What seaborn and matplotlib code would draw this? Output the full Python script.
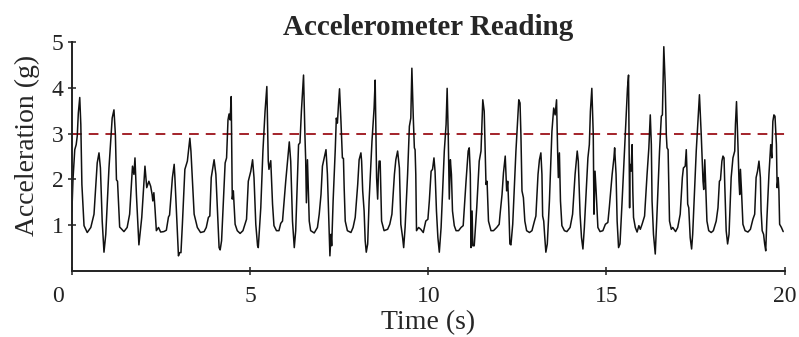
import matplotlib
matplotlib.use("Agg")
import matplotlib.pyplot as plt
import matplotlib.transforms as mtransforms
import seaborn as sns
import pandas as pd

# samples traced from the reading, seconds / g
time_s = [
    0.00, 0.03, 0.08, 0.12, 0.15, 0.18, 0.22, 0.25, 0.28, 0.34,
    0.43, 0.53, 0.62, 0.71, 0.76, 0.80, 0.85, 0.90, 0.95, 1.04,
    1.13, 1.18, 1.22, 1.25, 1.28, 1.34, 1.46, 1.55, 1.62, 1.70,
    1.74, 1.77, 1.81, 1.88, 1.96, 2.05, 2.10, 2.16, 2.21, 2.25,
    2.27, 2.30, 2.33, 2.37, 2.43, 2.49, 2.58, 2.65, 2.71, 2.74,
    2.82, 2.87, 2.89, 2.94, 2.99, 3.02, 3.06, 3.10, 3.17, 3.24,
    3.31, 3.34, 3.43, 3.52, 3.61, 3.71, 3.77, 3.83, 3.87, 3.91,
    3.99, 4.04, 4.08, 4.13, 4.16, 4.20, 4.30, 4.34, 4.38, 4.41,
    4.44, 4.47, 4.49, 4.50, 4.53, 4.58, 4.64, 4.72, 4.80, 4.90,
    4.95, 5.02, 5.07, 5.11, 5.16, 5.21, 5.23, 5.30, 5.36, 5.42,
    5.47, 5.51, 5.53, 5.58, 5.63, 5.67, 5.74, 5.81, 5.86, 5.91,
    6.00, 6.10, 6.14, 6.19, 6.24, 6.28, 6.36, 6.40, 6.44, 6.50,
    6.54, 6.56, 6.58, 6.61, 6.66, 6.70, 6.80, 6.89, 6.94, 6.99,
    7.03, 7.13, 7.17, 7.22, 7.24, 7.27, 7.29, 7.33, 7.39, 7.42,
    7.45, 7.48, 7.51, 7.55, 7.59, 7.62, 7.64, 7.67, 7.73, 7.83,
    7.89, 7.95, 8.02, 8.06, 8.11, 8.13, 8.16, 8.18, 8.20, 8.23,
    8.26, 8.30, 8.34, 8.42, 8.48, 8.51, 8.55, 8.58, 8.60, 8.62,
    8.65, 8.69, 8.76, 8.86, 8.92, 8.98, 9.05, 9.09, 9.14, 9.19,
    9.23, 9.28, 9.31, 9.35, 9.42, 9.47, 9.51, 9.54, 9.58, 9.61,
    9.63, 9.65, 9.67, 9.73, 9.79, 9.86, 9.93, 9.99, 10.03, 10.08,
    10.12, 10.16, 10.19, 10.23, 10.27, 10.31, 10.36, 10.45, 10.50, 10.53,
    10.56, 10.59, 10.62, 10.65, 10.68, 10.73, 10.78, 10.85, 10.92, 10.98,
    11.06, 11.12, 11.15, 11.18, 11.20, 11.23, 11.25, 11.29, 11.36, 11.43,
    11.48, 11.53, 11.57, 11.62, 11.65, 11.69, 11.76, 11.83, 11.92, 11.99,
    12.02, 12.07, 12.11, 12.16, 12.20, 12.23, 12.26, 12.29, 12.32, 12.37,
    12.46, 12.54, 12.575, 12.60, 12.63, 12.67, 12.71, 12.76, 12.84, 12.91,
    12.98, 13.02, 13.08, 13.12, 13.16, 13.19, 13.21, 13.24, 13.27, 13.30,
    13.34, 13.40, 13.47, 13.52, 13.56, 13.60, 13.63, 13.65, 13.68, 13.71,
    13.75, 13.82, 13.89, 13.98, 14.05, 14.12, 14.18, 14.21, 14.26, 14.30,
    14.34, 14.38, 14.48, 14.52, 14.55, 14.59, 14.63, 14.65, 14.68, 14.71,
    14.76, 14.82, 14.90, 14.97, 15.04, 15.08, 15.16, 15.21, 15.23, 15.27,
    15.30, 15.34, 15.38, 15.44, 15.51, 15.55, 15.59, 15.62, 15.65, 15.66,
    15.69, 15.72, 15.74, 15.76, 15.81, 15.86, 15.91, 15.95, 16.00, 16.07,
    16.14, 16.19, 16.23, 16.26, 16.28, 16.32, 16.37, 16.41, 16.49, 16.54,
    16.57, 16.61, 16.65, 16.68, 16.70, 16.73, 16.77, 16.82, 16.86, 16.94,
    17.00, 17.07, 17.13, 17.16, 17.21, 17.24, 17.26, 17.28, 17.31, 17.35,
    17.39, 17.42, 17.52, 17.61, 17.66, 17.71, 17.73, 17.76, 17.78, 17.82,
    17.87, 17.94, 18.00, 18.08, 18.13, 18.17, 18.20, 18.24, 18.27, 18.30,
    18.32, 18.36, 18.40, 18.44, 18.50, 18.55, 18.60, 18.62, 18.65, 18.69,
    18.72, 18.74, 18.76, 18.79, 18.83, 18.89, 18.97, 19.04, 19.11, 19.16,
    19.20, 19.24, 19.28, 19.32, 19.34, 19.37, 19.41, 19.44, 19.47, 19.50,
    19.56, 19.61, 19.64, 19.67, 19.70, 19.73, 19.77, 19.79, 19.82, 19.84,
    19.86, 19.91, 19.96,
]
accel_g = [
    1.30, 2.00, 2.65, 2.76, 2.95, 3.45, 3.79, 3.20, 1.89, 0.99,
    0.84, 0.95, 1.24, 2.36, 2.58, 2.25, 1.09, 0.41, 0.80, 2.25,
    3.34, 3.52, 2.98, 1.99, 1.96, 0.96, 0.86, 0.95, 1.24, 2.29,
    2.11, 2.47, 1.67, 0.57, 1.17, 2.29, 1.82, 1.96, 1.85, 1.67,
    1.53, 1.71, 1.38, 0.88, 0.95, 0.85, 0.86, 0.89, 1.18, 1.22,
    2.04, 2.33, 2.04, 1.20, 0.33, 0.40, 0.40, 1.02, 2.22, 2.40,
    2.90, 2.62, 1.24, 0.95, 0.84, 0.86, 0.95, 1.17, 1.20, 2.04,
    2.43, 2.11, 1.38, 0.51, 0.46, 0.66, 2.36, 2.47, 3.30, 3.43,
    3.30, 3.81, 2.40, 1.57, 1.75, 1.02, 0.88, 0.82, 0.88, 1.13,
    1.96, 2.18, 2.43, 2.04, 1.02, 0.55, 0.51, 1.38, 2.62, 3.49,
    4.03, 2.40, 2.22, 2.41, 1.46, 0.99, 0.88, 0.88, 1.04, 1.09,
    1.96, 2.82, 2.40, 1.09, 0.51, 0.88, 2.76, 2.80, 3.49, 4.28,
    2.94, 2.43, 1.49, 2.43, 1.09, 0.88, 0.83, 0.95, 1.24, 1.67,
    2.29, 2.65, 2.11, 0.80, 0.33, 0.80, 0.55, 1.53, 2.65, 3.34,
    3.23, 3.63, 3.98, 3.27, 2.47, 2.46, 1.82, 1.09, 0.88, 0.84,
    0.95, 1.17, 1.89, 2.43, 2.58, 2.40, 1.75, 1.53, 1.31, 0.66,
    0.41, 0.59, 1.53, 2.83, 3.56, 4.17, 2.04, 1.57, 2.11, 2.40,
    2.40, 1.09, 0.88, 0.91, 1.02, 1.24, 2.11, 2.43, 2.62, 2.25,
    1.02, 0.73, 0.51, 0.95, 2.11, 3.16, 3.34, 4.43, 3.34, 2.69,
    2.65, 2.11, 0.88, 0.95, 0.91, 0.84, 1.09, 1.13, 1.53, 2.18,
    2.22, 2.47, 2.18, 1.31, 0.73, 0.41, 0.95, 2.62, 3.20, 3.99,
    2.98, 1.57, 2.43, 2.11, 1.31, 0.99, 0.88, 0.88, 0.95, 0.99,
    1.96, 2.62, 2.69, 2.11, 0.51, 1.31, 0.55, 0.55, 1.38, 2.40,
    2.62, 3.74, 3.49, 1.89, 1.96, 1.09, 0.88, 0.88, 0.95, 1.02,
    1.28, 1.67, 2.14, 2.51, 1.75, 1.96, 1.38, 0.59, 0.57, 1.02,
    2.62, 3.74, 3.67, 2.98, 1.75, 1.60, 1.09, 0.88, 0.84, 0.88,
    1.09, 1.20, 2.11, 2.43, 2.58, 2.11, 1.20, 1.09, 0.73, 0.41,
    0.59, 1.53, 3.05, 3.56, 3.41, 3.74, 2.62, 2.04, 2.58, 1.53,
    0.99, 0.88, 0.86, 0.95, 1.24, 2.11, 2.62, 2.40, 1.24, 0.73,
    0.48, 0.95, 2.47, 2.76, 3.49, 3.99, 2.98, 1.24, 2.18, 1.75,
    0.95, 0.86, 0.88, 1.02, 1.06, 1.38, 2.11, 2.47, 2.69, 2.11,
    1.09, 0.51, 0.59, 1.53, 2.69, 3.34, 3.99, 4.28, 1.38, 2.33,
    2.18, 2.76, 1.75, 1.17, 0.95, 0.85, 0.99, 0.91, 1.02, 1.20,
    2.11, 2.69, 3.41, 2.76, 1.53, 0.80, 0.37, 1.09, 2.62, 3.38,
    3.41, 4.90, 4.06, 2.98, 2.69, 2.65, 1.09, 0.91, 0.95, 0.86,
    0.95, 1.24, 2.04, 2.25, 2.29, 2.65, 2.18, 1.46, 1.38, 0.73,
    0.48, 0.80, 2.62, 3.85, 2.98, 1.96, 1.78, 2.43, 1.96, 1.09,
    0.88, 0.84, 0.88, 1.09, 1.38, 1.96, 1.99, 2.40, 2.51, 2.47,
    1.89, 0.88, 0.59, 0.80, 2.04, 2.47, 2.62, 3.20, 3.70, 2.76,
    1.96, 1.67, 2.22, 1.75, 1.02, 0.88, 0.85, 0.91, 1.13, 1.24,
    2.04, 2.18, 2.40, 2.04, 1.31, 0.88, 0.80, 0.59, 0.44, 1.09,
    2.11, 2.76, 2.47, 3.27, 3.41, 3.38, 2.76, 1.82, 2.04, 1.75,
    1.02, 0.95, 0.86,
]
THRESHOLD_G = 3.0
x_ticks = [0, 5, 10, 15, 20]
y_ticks = [1, 2, 3, 4, 5]

assert len(time_s) == len(accel_g)
df = pd.DataFrame({"time": time_s, "accel": accel_g})

sns.set_style("ticks")
plt.rcParams["font.family"] = ["Liberation Serif", "DejaVu Serif"]

fig = plt.figure(figsize=(7.99, 3.37), dpi=100)
ax = fig.add_axes([0.090, 0.196, 0.892, 0.679])

ax.axhline(THRESHOLD_G, color="#a3232a", lw=1.4, ls=(0, (5.0, 3.6)), zorder=1)
sns.lineplot(data=df, x="time", y="accel", color="#111111", lw=1.1,
             sort=False, estimator=None, ax=ax, zorder=2)

ax.set_xlim(0, 20)
ax.set_ylim(0, 5)
ax.set_xticks(x_ticks)
ax.set_yticks(y_ticks)
ax.set_xlabel("Time (s)", fontsize=20, labelpad=2)
ax.set_ylabel("Acceleration (g)", fontsize=20)
ax.yaxis.set_label_coords(-0.045, 0.55)
ax.set_title("Accelerometer Reading", fontsize=21, fontweight="bold", pad=5)

sns.despine(ax=ax)
for side in ["left", "bottom"]:
    ax.spines[side].set_linewidth(1.4)
    ax.spines[side].set_color("#222222")
ax.tick_params(direction="inout", length=6, width=1.1, labelsize=17,
               colors="#222222", pad=3)
ax.tick_params(axis="x", pad=8)

# the 0 on the time axis sits a little to the left of its tick
shift = mtransforms.ScaledTranslation(-14 / 100, 0, fig.dpi_scale_trans)
lbl = ax.get_xticklabels()[0]
lbl.set_transform(lbl.get_transform() + shift)

fig.savefig("out.png", dpi=100)
